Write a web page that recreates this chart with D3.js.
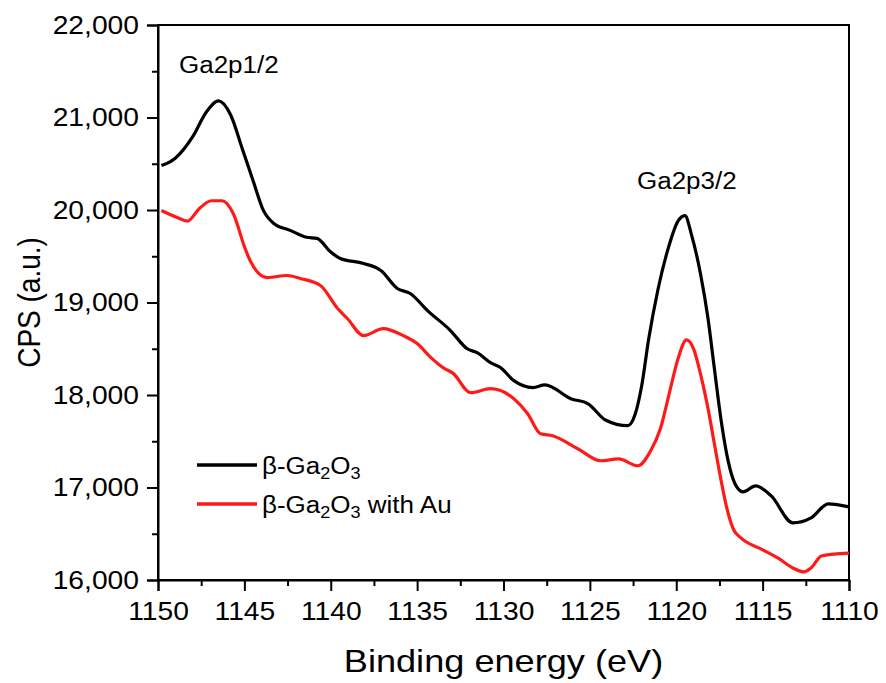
<!DOCTYPE html>
<html>
<head>
<meta charset="utf-8">
<script src="https://cdn.jsdelivr.net/npm/d3@7/dist/d3.min.js"></script>
<style>
  html, body { margin: 0; padding: 0; background: #fff; }
  svg { display: block; }
  text { font-family: "Liberation Sans", Arial, sans-serif; fill: #000; }
</style>
</head>
<body>
<svg id="chart" width="886" height="683"></svg>
<script>
// Binding energies (eV) and counts for the bare film
const energyBare = [1149.8, 1149.0, 1148.0, 1147.2, 1146.5, 1145.8, 1145.1, 1144.5, 1143.9, 1143.3,
  1142.35, 1141.4, 1140.8, 1140.0, 1139.45, 1138.1, 1137.1, 1136.15, 1135.4, 1134.4,
  1133.07, 1132.1, 1131.5, 1130.75, 1130.2, 1129.4, 1128.3, 1127.6, 1126.1, 1125.1,
  1124.1, 1122.8, 1122.4, 1122.0, 1121.6, 1121.07, 1120.5, 1119.9, 1119.5, 1119.1,
  1118.6, 1118.17, 1117.8, 1117.4, 1117.0, 1116.6, 1116.14, 1115.4, 1114.5, 1113.25,
  1112.2, 1111.2, 1110.0];
const cpsBare = [20480, 20560, 20790, 21060, 21180, 21030, 20650, 20320, 19996, 19855,
  19780, 19705, 19693, 19545, 19476, 19422, 19346, 19152, 19097, 18913,
  18697, 18500, 18455, 18350, 18300, 18155, 18080, 18110, 17960, 17905,
  17730, 17668, 17780, 18100, 18600, 19130, 19563, 19880, 19940, 19720,
  19314, 18837, 18296, 17722, 17290, 17040, 16953, 17018, 16909, 16617,
  16671, 16823, 16790];

// Binding energies (eV) and counts for the film with Au
const energyAu = [1149.8, 1148.9, 1148.3, 1147.6, 1146.9, 1146.3, 1145.65, 1144.96, 1144.67, 1143.68,
  1142.52, 1141.77, 1140.6, 1139.6, 1139.04, 1138.1, 1136.96, 1135.8, 1135.0, 1134.2,
  1133.5, 1132.9, 1131.9, 1130.75, 1129.4, 1128.6, 1127.85, 1127.16, 1125.7, 1124.38,
  1123.33, 1122.23, 1121.48, 1120.9, 1120.4, 1119.9, 1119.4, 1118.98, 1118.6, 1118.17,
  1117.8, 1117.4, 1117.05, 1116.67, 1116.26, 1115.1, 1114.12, 1113.25, 1112.6, 1112.2,
  1111.6, 1110.87, 1110.0];
const cpsAu = [19995, 19920, 19880, 20017, 20100, 20100, 19964, 19585, 19454, 19270,
  19292, 19260, 19184, 18935, 18827, 18642, 18718, 18642, 18556, 18404,
  18296, 18231, 18025, 18068, 17960, 17798, 17581, 17560, 17419, 17289,
  17310, 17235, 17397, 17646, 18020, 18390, 18595, 18490, 18231, 17863,
  17480, 17072, 16760, 16540, 16455, 16336, 16238, 16130, 16087, 16130,
  16260, 16280, 16290];

const xTicks = [1150, 1145, 1140, 1135, 1130, 1125, 1120, 1115, 1110];
const yTicks = [16000, 17000, 18000, 19000, 20000, 21000, 22000];
const peakLabels = ["Ga2p1/2", "Ga2p3/2"];

const svg = d3.select("#chart");
const margin = { top: 25, right: 37, bottom: 103, left: 158 };
const W = 886 - margin.left - margin.right;
const H = 683 - margin.top - margin.bottom;
const SX = 1.13; // horizontal text stretch

const x = d3.scaleLinear().domain([1150, 1110]).range([0, W]);
const y = d3.scaleLinear().domain([16000, 22000]).range([H, 0]);

const g = svg.append("g").attr("transform", `translate(${margin.left},${margin.top})`);

// frame
g.append("rect").attr("x", 0).attr("y", 0).attr("width", W).attr("height", H)
  .attr("fill", "none").attr("stroke", "#000").attr("stroke-width", 2);

// x axis with minor ticks
const xMinor = d3.range(1147.5, 1110, -5);
g.append("g").attr("transform", `translate(0,${H})`)
  .call(d3.axisBottom(x).tickValues(xMinor).tickSize(6).tickFormat(""))
  .call(s => { s.select(".domain").remove(); s.selectAll("line").attr("stroke-width", 2); });
const xAx = g.append("g").attr("transform", `translate(0,${H})`)
  .call(d3.axisBottom(x).tickValues(xTicks).tickSize(11).tickPadding(6).tickFormat(d3.format("d")));
xAx.select(".domain").attr("stroke-width", 2);
xAx.selectAll("line").attr("stroke-width", 2);
xAx.selectAll("text").attr("font-size", 25).attr("font-family", "Liberation Sans, Arial, sans-serif")
  .attr("transform", `scale(${SX},1)`).attr("dy", "0.92em");

// y axis with minor ticks
const yMinor = d3.range(16500, 22000, 1000);
g.append("g")
  .call(d3.axisLeft(y).tickValues(yMinor).tickSize(6).tickFormat(""))
  .call(s => { s.select(".domain").remove(); s.selectAll("line").attr("stroke-width", 2); });
const yAx = g.append("g")
  .call(d3.axisLeft(y).tickValues(yTicks).tickSize(11).tickPadding(8).tickFormat(d3.format(",")));
yAx.select(".domain").attr("stroke-width", 2);
yAx.selectAll("line").attr("stroke-width", 2);
yAx.selectAll("text").attr("font-size", 25).attr("font-family", "Liberation Sans, Arial, sans-serif")
  .attr("transform", `scale(${SX},1)`).attr("x", -19 / SX);

// axis titles
svg.append("text")
  .attr("transform", `translate(${margin.left + W / 2},672) scale(${SX},1)`)
  .attr("text-anchor", "middle").attr("font-size", 32).text("Binding energy (eV)");
svg.append("text")
  .attr("transform", `translate(40,${margin.top + H / 2}) scale(${SX},1) rotate(-90)`)
  .attr("text-anchor", "middle").attr("font-size", 28).text("CPS (a.u.)");

// spectra
const line = d3.line().curve(d3.curveMonotoneX);
const ptsBare = energyBare.map((e, i) => [x(e), y(cpsBare[i])]);
const ptsAu = energyAu.map((e, i) => [x(e), y(cpsAu[i])]);
const colors = ["#000000", "#ff1a1a"];
g.append("path").attr("d", line(ptsBare)).attr("fill", "none")
  .attr("stroke", colors[0]).attr("stroke-width", 3.2).attr("stroke-linejoin", "round");
g.append("path").attr("d", line(ptsAu)).attr("fill", "none")
  .attr("stroke", colors[1]).attr("stroke-width", 3.2).attr("stroke-linejoin", "round");

// peak labels
svg.append("text").attr("transform", `translate(179,73) scale(${SX},1)`)
  .attr("font-size", 23).text(peakLabels[0]);
svg.append("text").attr("transform", `translate(637,189) scale(${SX},1)`)
  .attr("font-size", 23).text(peakLabels[1]);

// legend
const legend = svg.append("g");
[465, 504].forEach((ly, i) => {
  legend.append("line").attr("x1", 197).attr("x2", 257).attr("y1", ly).attr("y2", ly)
    .attr("stroke", colors[i]).attr("stroke-width", 3.5);
  const t = legend.append("text").attr("transform", `translate(262,${ly + 9}) scale(${SX},1)`)
    .attr("font-size", 23);
  t.append("tspan").text("β-Ga");
  t.append("tspan").attr("font-size", 16).attr("dy", 5).text("2");
  t.append("tspan").attr("dy", -5).text("O");
  t.append("tspan").attr("font-size", 16).attr("dy", 5).text("3");
  if (i === 1) t.append("tspan").attr("dy", -5).text(" with Au");
});
</script>
</body>
</html>
